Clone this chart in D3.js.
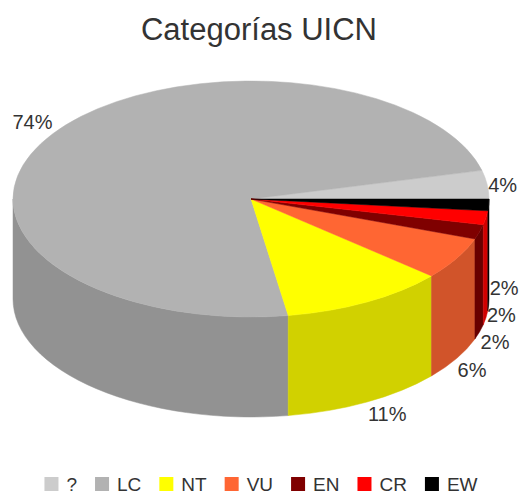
<!DOCTYPE html>
<html>
<head>
<meta charset="utf-8">
<script src="https://d3js.org/d3.v7.min.js"></script>
<style>
  body { margin: 0; background: #fff; }
  svg { font-family: "Liberation Sans", Arial, sans-serif; }
</style>
</head>
<body>
<div id="chart"></div>
<script>
// Chart data
var categories = ["?", "LC", "NT", "VU", "EN", "CR", "EW"];
var values = [3.9, 73.6, 11.2, 5.8, 2.0, 1.9, 1.6];
var topColors = ["#cccccc", "#b2b2b2", "#ffff00", "#ff6633", "#7f0000", "#ff0000", "#000000"];
var title = "Categorías UICN";

var width = 521, height = 493;
//Pie geometry (3d look: ellipse + depth)
var cx = 251, cy = 199, rx = 238, ry = 118, depth = 100;

var svg = d3.select("#chart").append("svg")
    .attr("width", width)
    .attr("height", height);

svg.append("text")
    .attr("x", 259)
    .attr("y", 40)
    .attr("text-anchor", "middle")
    .style("font-size", "31px")
    .style("fill", "#333")
    .text(title);

var color = d3.scaleOrdinal().domain(categories).range(topColors);
function shade(c) {
  return d3.color(c).darker(0.56).formatHex();
}

var data = categories.map(function(c, i) { return {name: c, value: values[i]}; });
var total = d3.sum(values);

//counterclockwise starting at 3 o'clock
var pie = d3.pie()
    .sort(null)
    .value(function(d) { return d.value; })
    .startAngle(Math.PI / 2)
    .endAngle(Math.PI / 2 - 2 * Math.PI);

var arcs = pie(data).map(function(d) {
  var a = d.startAngle - Math.PI / 2, b = d.endAngle - Math.PI / 2;
  d.t0 = Math.min(a, b);
  d.t1 = Math.max(a, b);
  return d;
});

function pt(t, dy) {
  return [cx + rx * Math.cos(t), cy + ry * Math.sin(t) + (dy || 0)];
}

//Sides (only the front half is visible)
arcs.forEach(function(d) {
  [-2 * Math.PI, 0, 2 * Math.PI].forEach(function(k) {
    var a = Math.max(d.t0 + k, 0), b = Math.min(d.t1 + k, Math.PI);
    if (b <= a) return;
    var p0 = pt(a), p1 = pt(b), q1 = pt(b, depth), q0 = pt(a, depth);
    var path = "M" + p0 + "A" + rx + "," + ry + " 0 0 1 " + p1 +
               "L" + q1 + "A" + rx + "," + ry + " 0 0 0 " + q0 + "Z";
    svg.append("path")
        .attr("d", path)
        .style("fill", shade(color(d.data.name)))
        .style("stroke", shade(color(d.data.name)))
        .style("stroke-width", 0.5);
  });
});

//Top faces
arcs.forEach(function(d) {
  var p0 = pt(d.t0), p1 = pt(d.t1);
  var large = (d.t1 - d.t0) > Math.PI ? 1 : 0;
  svg.append("path")
      .attr("d", "M" + cx + "," + cy + "L" + p0 + "A" + rx + "," + ry + " 0 " + large + " 1 " + p1 + "Z")
      .style("fill", color(d.data.name))
      .style("stroke", color(d.data.name))
      .style("stroke-width", 0.5);
});

//Percent labels
var fmt = d3.format(".0%");
var labels = arcs.map(function(d) {
  var m = (d.t0 + d.t1) / 2;
  var s = Math.sin(m), c = Math.cos(m);
  var p = pt(m, s > 0 ? depth : 0);
  var off = Math.max(-1, Math.min(1, s * 3)) * 12;
  if (Math.abs(s) < 0.15) off = 0;
  return {
    text: fmt(d.value / total),
    x: c > 0 ? p[0] + 1 : p[0],
    y: p[1] + off,
    anchor: c > 0 ? "start" : "end",
    right: c > 0
  };
});

//push overlapping labels on the right side upward
var right = labels.filter(function(l) { return l.right; })
    .sort(function(a, b) { return b.y - a.y; });
for (var i = 1; i < right.length; i++) {
  if (right[i].y > right[i - 1].y - 27) right[i].y = right[i - 1].y - 27;
}

svg.selectAll(".lbl")
    .data(labels)
  .enter().append("text")
    .attr("class", "lbl")
    .attr("x", function(d) { return d.x; })
    .attr("y", function(d) { return d.y + 7; })
    .attr("text-anchor", function(d) { return d.anchor; })
    .style("font-size", "20px")
    .style("fill", "#333")
    .text(function(d) { return d.text; });

//Legend
var legend = svg.append("g");
var lx = 0;
categories.forEach(function(c) {
  var g = legend.append("g").attr("transform", "translate(" + lx + ",0)");
  g.append("rect")
      .attr("x", 0).attr("y", 0)
      .attr("width", 14).attr("height", 14)
      .style("fill", color(c));
  var t = g.append("text")
      .attr("x", 22).attr("y", 14)
      .style("font-size", "19px")
      .style("fill", "#333")
      .text(c);
  lx += 22 + t.node().getComputedTextLength() + 18;
});
lx -= 18;
legend.attr("transform", "translate(" + (261 - lx / 2) + ",477)");
</script>
</body>
</html>
